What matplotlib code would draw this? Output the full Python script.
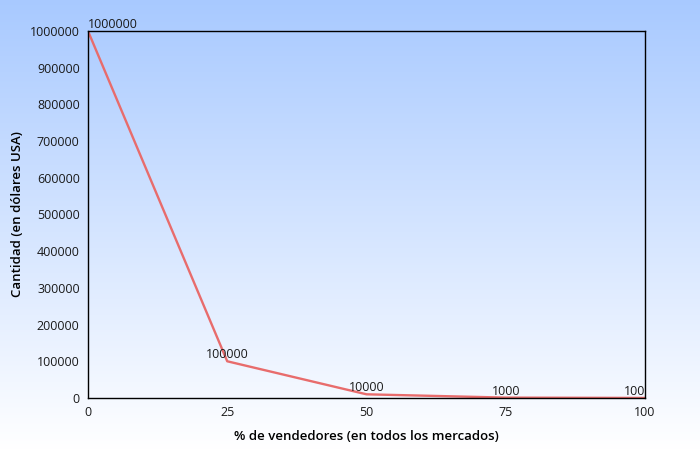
import matplotlib
matplotlib.use("Agg")
import matplotlib.pyplot as plt
import numpy as np

# data
pct_sellers = [0, 25, 50, 75, 100]
amount_usd = [1000000, 100000, 10000, 1000, 100]
point_labels = ["1000000", "100000", "10000", "1000", "100"]
label_align = ["left", "center", "center", "center", "right"]

plt.rcParams['font.family'] = ['Open Sans', 'DejaVu Sans']

fig = plt.figure(figsize=(7, 4.5), dpi=100)

# background gradient: light blue at top fading to white
bg = fig.add_axes([0, 0, 1, 1], zorder=-10)
grad = np.linspace(0, 1, 256).reshape(-1, 1)
top = np.array([0.66, 0.79, 1.0])
bottom = np.array([1.0, 1.0, 1.0])
img = top + (bottom - top) * grad[..., None]
bg.imshow(img, aspect='auto', extent=[0, 1, 0, 1], origin='upper')
bg.axis('off')

ax = fig.add_axes([0.1257, 0.1156, 0.7957, 0.8155])
ax.patch.set_alpha(0)
ax.plot(pct_sellers, amount_usd, color='#e86c6c', lw=1.7)

for x, y, s, ha in zip(pct_sellers, amount_usd, point_labels, label_align):
    ax.annotate(s, (x, y), xytext=(0, 0), textcoords='offset points',
                ha=ha, va='bottom', fontsize=9, color='#1a1a1a')

ax.set_xlim(0, 100)
ax.set_ylim(0, 1000000)
ax.set_xticks(pct_sellers)
ax.set_yticks(np.arange(0, 1000001, 100000))
ax.yaxis.set_major_formatter(matplotlib.ticker.FuncFormatter(lambda v, p: f"{int(v)}"))
ax.tick_params(length=0, labelsize=9, colors='#1a1a1a', pad=6)
for sp in ax.spines.values():
    sp.set_color('black')
    sp.set_linewidth(1)

ax.set_xlabel('% de vendedores (en todos los mercados)', fontsize=9.5,
              fontweight='semibold', labelpad=8)
ax.set_ylabel('Cantidad (en dólares USA)', fontsize=9.5,
              fontweight='semibold', labelpad=4)

fig.savefig('out.png', dpi=100)
